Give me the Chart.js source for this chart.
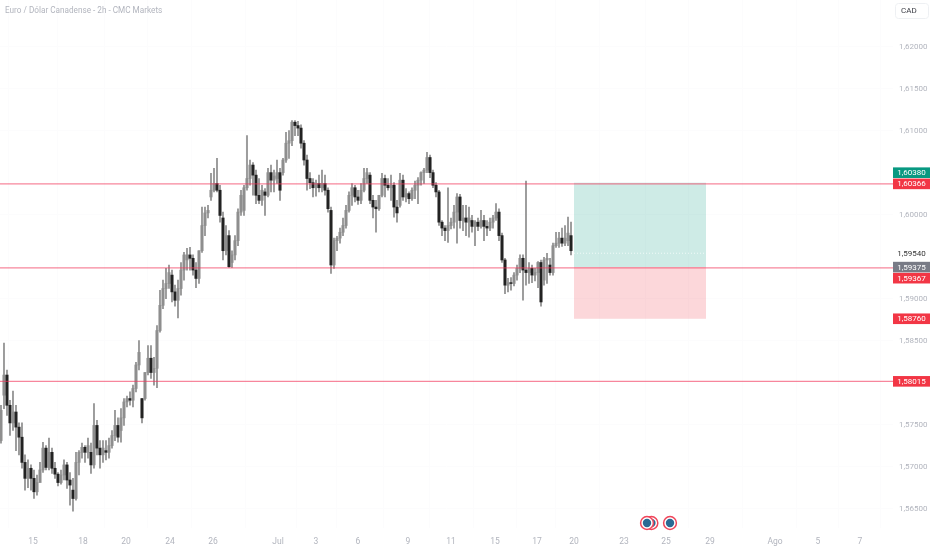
<!DOCTYPE html>
<html>
<head>
<meta charset="utf-8">
<title>Euro / Dólar Canadense</title>
<script src="https://cdn.jsdelivr.net/npm/chart.js@4"></script>
<style>
  html, body { margin: 0; padding: 0; background: #fff; }
  canvas { display: block; }
</style>
</head>
<body>
<canvas id="chart" width="932" height="550"></canvas>
<script>
const chartTitle = 'Euro / Dólar Canadense - 2h - CMC Markets';
const currency = 'CAD';

const opens = [
  1.5731,1.5785,1.5809,1.5773,1.5752,1.5765,1.5747,1.5735,1.5705,1.5686,
  1.5698,1.5686,1.5670,1.5681,1.5696,1.5722,1.5699,1.5717,1.5698,1.5691,
  1.5681,1.5690,1.5702,1.5684,1.5672,1.5662,1.5705,1.5717,1.5723,1.5717,
  1.5717,1.5702,1.5749,1.5722,1.5714,1.5719,1.5717,1.5725,1.5737,1.5749,
  1.5743,1.5758,1.5777,1.5781,1.5779,1.5793,1.5821,1.5781,1.5781,1.5812,
  1.5829,1.5812,1.5817,1.5862,1.5892,1.5912,1.5918,1.5928,1.5908,1.5898,
  1.5912,1.5934,1.5946,1.5952,1.5948,1.5934,1.5924,1.5957,1.5987,1.6002,
  1.6021,1.6029,1.6037,1.6029,1.5996,1.5957,1.5975,1.5943,1.5952,1.5969,
  1.6003,1.6005,1.6032,1.6043,1.6059,1.6047,1.6023,1.6017,1.6027,1.6023,
  1.6050,1.6041,1.6043,1.6050,1.6050,1.6065,1.6085,1.6088,1.6110,1.6106,
  1.6103,1.6085,1.6065,1.6043,1.6038,1.6032,1.6037,1.6032,1.6037,1.6029,
  1.6005,1.5940,1.5969,1.5972,1.5979,1.5987,1.6005,1.6023,1.6032,1.6021,
  1.6017,1.6029,1.6043,1.6047,1.6017,1.6009,1.6007,1.6023,1.6043,1.6035,
  1.6032,1.6035,1.6009,1.6011,1.6041,1.6021,1.6025,1.6019,1.6029,1.6035,
  1.6041,1.6050,1.6053,1.6068,1.6050,1.6035,1.6027,1.5991,1.5984,1.5981,
  1.5987,1.5991,1.6003,1.6021,1.5993,1.5996,1.5991,1.5993,1.5986,1.5991,
  1.5986,1.5993,1.5986,1.5984,1.5991,1.5996,1.6003,1.5975,1.5946,1.5916,
  1.5919,1.5918,1.5928,1.5936,1.5948,1.5934,1.5931,1.5936,1.5928,1.5931,
  1.5943,1.5922,1.5946,1.5940,1.5931,1.5963,1.5966,1.5972,1.5966,1.5969,
  1.5975
];
const closes = [
  1.5767,1.5809,1.5773,1.5752,1.5765,1.5747,1.5735,1.5705,1.5686,1.5698,
  1.5686,1.5670,1.5681,1.5696,1.5722,1.5699,1.5717,1.5698,1.5691,1.5681,
  1.5690,1.5702,1.5684,1.5678,1.5662,1.5705,1.5717,1.5723,1.5717,1.5725,
  1.5702,1.5749,1.5722,1.5714,1.5722,1.5717,1.5725,1.5737,1.5749,1.5735,
  1.5758,1.5777,1.5781,1.5779,1.5793,1.5821,1.5836,1.5758,1.5812,1.5829,
  1.5812,1.5817,1.5862,1.5892,1.5912,1.5918,1.5931,1.5908,1.5898,1.5912,
  1.5934,1.5952,1.5952,1.5948,1.5934,1.5924,1.5957,1.5987,1.6002,1.6005,
  1.6029,1.6037,1.6029,1.5999,1.5957,1.5975,1.5938,1.5952,1.5969,1.6003,
  1.6023,1.6032,1.6043,1.6059,1.6047,1.6023,1.6017,1.6029,1.6023,1.6050,
  1.6041,1.6046,1.6050,1.6029,1.6065,1.6085,1.6088,1.6110,1.6106,1.6103,
  1.6085,1.6065,1.6043,1.6038,1.6032,1.6037,1.6032,1.6037,1.6029,1.6007,
  1.5940,1.5969,1.5972,1.5979,1.5987,1.6005,1.6023,1.6032,1.6021,1.6017,
  1.6029,1.6043,1.6050,1.6017,1.6009,1.6007,1.6023,1.6043,1.6035,1.6032,
  1.6035,1.6009,1.6002,1.6041,1.6021,1.6025,1.6019,1.6029,1.6035,1.6041,
  1.6050,1.6053,1.6068,1.6050,1.6035,1.6027,1.5991,1.5984,1.5981,1.5987,
  1.5991,1.6003,1.6021,1.5993,1.5996,1.5991,1.5996,1.5986,1.5991,1.5986,
  1.5993,1.5986,1.5984,1.5991,1.5996,1.6003,1.5975,1.5946,1.5916,1.5919,
  1.5918,1.5928,1.5936,1.5948,1.5934,1.5931,1.5936,1.5928,1.5931,1.5943,
  1.5896,1.5946,1.5948,1.5931,1.5963,1.5966,1.5972,1.5966,1.5972,1.5978,
  1.5957
];
const highs = [
  1.5773,1.5847,1.5815,1.5779,1.5790,1.5773,1.5752,1.5752,1.5714,1.5708,
  1.5702,1.5696,1.5690,1.5705,1.5729,1.5725,1.5734,1.5722,1.5705,1.5693,
  1.5696,1.5708,1.5705,1.5693,1.5686,1.5717,1.5719,1.5728,1.5725,1.5734,
  1.5728,1.5775,1.5755,1.5731,1.5731,1.5731,1.5734,1.5743,1.5767,1.5758,
  1.5769,1.5781,1.5784,1.5789,1.5797,1.5824,1.5850,1.5781,1.5812,1.5844,
  1.5844,1.5830,1.5868,1.5910,1.5922,1.5936,1.5940,1.5934,1.5916,1.5922,
  1.5943,1.5955,1.5960,1.5961,1.5952,1.5943,1.5957,1.6009,1.6009,1.6011,
  1.6049,1.6055,1.6067,1.6035,1.6003,1.5987,1.5981,1.5957,1.5975,1.6007,
  1.6029,1.6035,1.6094,1.6065,1.6062,1.6053,1.6043,1.6035,1.6031,1.6055,
  1.6059,1.6053,1.6065,1.6055,1.6067,1.6098,1.6100,1.6112,1.6112,1.6111,
  1.6107,1.6088,1.6071,1.6050,1.6043,1.6041,1.6047,1.6053,1.6047,1.6032,
  1.6009,1.5972,1.5974,1.5984,1.5996,1.6011,1.6027,1.6037,1.6035,1.6029,
  1.6037,1.6055,1.6055,1.6050,1.6023,1.6017,1.6023,1.6049,1.6047,1.6043,
  1.6047,1.6038,1.6017,1.6049,1.6047,1.6031,1.6027,1.6032,1.6040,1.6044,
  1.6051,1.6055,1.6074,1.6071,1.6053,1.6038,1.6029,1.5993,1.5987,1.6032,
  1.5996,1.6011,1.6025,1.6024,1.6011,1.6011,1.6009,1.5999,1.5993,1.5996,
  1.6005,1.5999,1.5993,1.5996,1.5999,1.6013,1.6007,1.5978,1.5948,1.5924,
  1.5925,1.5931,1.5940,1.5952,1.5952,1.6040,1.5943,1.5940,1.5936,1.5944,
  1.5946,1.5949,1.5954,1.5948,1.5966,1.5979,1.5979,1.5984,1.5987,1.5997,
  1.5991
];
const lows = [
  1.5728,1.5769,1.5761,1.5737,1.5743,1.5719,1.5714,1.5698,1.5672,1.5675,
  1.5672,1.5662,1.5666,1.5684,1.5693,1.5696,1.5696,1.5692,1.5686,1.5677,
  1.5679,1.5684,1.5674,1.5654,1.5647,1.5660,1.5690,1.5710,1.5705,1.5710,
  1.5692,1.5698,1.5714,1.5698,1.5705,1.5708,1.5710,1.5722,1.5731,1.5729,
  1.5729,1.5749,1.5771,1.5773,1.5771,1.5789,1.5815,1.5752,1.5779,1.5809,
  1.5805,1.5797,1.5794,1.5860,1.5888,1.5900,1.5912,1.5896,1.5891,1.5877,
  1.5904,1.5922,1.5934,1.5934,1.5928,1.5913,1.5918,1.5955,1.5975,1.5996,
  1.6017,1.6027,1.6027,1.5991,1.5946,1.5952,1.5937,1.5937,1.5946,1.5963,
  1.5999,1.5999,1.6029,1.6035,1.6023,1.6013,1.6013,1.6011,1.5999,1.6021,
  1.6027,1.6027,1.6037,1.6017,1.6047,1.6062,1.6067,1.6082,1.6094,1.6094,
  1.6079,1.6059,1.6029,1.6031,1.6021,1.6022,1.6027,1.6027,1.6023,1.6003,
  1.5930,1.5936,1.5957,1.5966,1.5975,1.5984,1.6003,1.6011,1.6015,1.6012,
  1.6013,1.6027,1.6037,1.6013,1.5996,1.5979,1.6005,1.6021,1.6021,1.6029,
  1.6017,1.5997,1.5991,1.6009,1.6017,1.6015,1.6013,1.6017,1.6019,1.6013,
  1.6035,1.6037,1.6050,1.6044,1.6032,1.6021,1.5987,1.5975,1.5969,1.5967,
  1.5983,1.5984,1.5966,1.5984,1.5981,1.5975,1.5973,1.5979,1.5963,1.5981,
  1.5984,1.5969,1.5975,1.5981,1.5984,1.5993,1.5969,1.5943,1.5906,1.5908,
  1.5910,1.5915,1.5922,1.5931,1.5898,1.5916,1.5918,1.5919,1.5921,1.5913,
  1.5891,1.5916,1.5918,1.5928,1.5928,1.5961,1.5961,1.5962,1.5963,1.5963,
  1.5952
];

// x axis runs in candle slots, one slot is 3px here
const xMin = -0.33;
const xMax = 297.33;
const yMax = 1.62555;
const yMin = 1.56269;

const dateLabels = ['15','18','20','24','26','Jul','3','6','9','11','15','17','20','23','25','29','Ago','5','7'];
const dateSlots = [10.67,27.33,41.67,56.33,70.67,92.33,105,119,135.67,150,164.67,178.67,191,207.67,221.67,236.33,258,272.33,286.33];
const priceTicks = [1.62,1.615,1.61,1.6,1.59,1.585,1.575,1.57,1.565];

const levels = [1.60366,1.59367,1.58015];
const targetPrice = 1.60380;
const entryPrice = 1.59375;
const stopPrice = 1.58760;
const lastPrice = 1.59540;
const boxStart = 191;
const boxEnd = 235;
const eventSlots = [223,216.8,215.33];

const GREY_TEXT = '#b2b5be';
const fontName = 'Roboto, sans-serif';

function fmt(v) {
  return v.toFixed(5).replace('.', ',');
}

const overlay = {
  id: 'overlay',
  beforeDatasetsDraw(chart) {
    const { ctx, scales: { x, y } } = chart;
    ctx.save();
    // position box
    const left = x.getPixelForValue(boxStart);
    const right = x.getPixelForValue(boxEnd);
    ctx.fillStyle = 'rgba(8,153,129,0.2)';
    ctx.fillRect(left, y.getPixelForValue(targetPrice), right - left, y.getPixelForValue(entryPrice) - y.getPixelForValue(targetPrice));
    ctx.fillStyle = 'rgba(242,54,69,0.2)';
    ctx.fillRect(left, y.getPixelForValue(entryPrice), right - left, y.getPixelForValue(stopPrice) - y.getPixelForValue(entryPrice));
    ctx.strokeStyle = 'rgba(255,255,255,0.7)';
    ctx.setLineDash([1, 2]);
    ctx.beginPath();
    ctx.moveTo(left, y.getPixelForValue(lastPrice));
    ctx.lineTo(right, y.getPixelForValue(lastPrice));
    ctx.stroke();
    ctx.restore();
  },
  afterDatasetsDraw(chart) {
    const { ctx, scales: { x, y }, chartArea } = chart;
    ctx.save();

    // horizontal levels
    ctx.strokeStyle = 'rgba(242,54,90,0.6)';
    ctx.lineWidth = 1.3;
    levels.forEach((p) => {
      const py = y.getPixelForValue(p);
      ctx.beginPath();
      ctx.moveTo(chartArea.left, py);
      ctx.lineTo(chartArea.right, py);
      ctx.stroke();
    });

    // price tags on the right
    ctx.font = '8px ' + fontName;
    ctx.textAlign = 'center';
    ctx.textBaseline = 'middle';
    const tag = (p, color, shift, txtColor) => {
      const py = y.getPixelForValue(p) + shift;
      if (color) {
        ctx.fillStyle = color;
        ctx.fillRect(chartArea.right, py - 5.3, 37, 10.6);
      }
      ctx.fillStyle = txtColor || '#fff';
      ctx.fillText(fmt(p), chartArea.right + 18.5, py + 0.5);
    };
    tag(targetPrice, '#089981', -10, null);
    tag(levels[0], '#f23645', 0, null);
    tag(lastPrice, null, 0, '#333');
    tag(entryPrice, '#787b86', 0, null);
    tag(levels[1], '#f23645', 10.4, null);
    tag(stopPrice, '#f23645', 0, null);
    tag(levels[2], '#f23645', 0, null);

    // title and currency box
    ctx.textAlign = 'left';
    ctx.font = '8.2px ' + fontName;
    ctx.fillStyle = GREY_TEXT;
    ctx.fillText(chartTitle, 5, 10.5);
    ctx.strokeStyle = '#eef0f3';
    ctx.lineWidth = 1;
    ctx.beginPath();
    ctx.roundRect(895.5, 3.5, 33, 15, 3);
    ctx.stroke();
    ctx.fillStyle = '#3b3d45';
    ctx.font = '8px ' + fontName;
    ctx.fillText(currency, 901, 11);

    // event badges above the axis, right one first so the left one stays on top
    const badgeY = chartArea.bottom - 5;
    eventSlots.forEach((s) => {
      const px = x.getPixelForValue(s);
      ctx.beginPath();
      ctx.arc(px, badgeY, 6.4, 0, Math.PI * 2);
      ctx.fillStyle = '#fff';
      ctx.fill();
      ctx.strokeStyle = '#f0455a';
      ctx.lineWidth = 1.5;
      ctx.stroke();
      ctx.beginPath();
      ctx.arc(px, badgeY, 4.2, 0, Math.PI * 2);
      ctx.fillStyle = '#2b6a94';
      ctx.fill();
    });
    ctx.restore();
  }
};

const wickData = highs.map((h, i) => ({ x: i, y: [lows[i], h] }));
const bodyData = opens.map((o, i) => ({ x: i, y: [o, closes[i]] }));
const bodyColors = opens.map((o, i) => (closes[i] < o ? '#222' : '#8e8e8e'));

new Chart(document.getElementById('chart'), {
  type: 'bar',
  data: {
    datasets: [
      {
        label: 'bodies',
        data: bodyData,
        backgroundColor: bodyColors,
        barThickness: 2.4,
        grouped: false,
        order: 1,
      },
      {
        label: 'wicks',
        data: wickData,
        backgroundColor: '#8a8a8a',
        barThickness: 1,
        grouped: false,
        order: 2,
      },
    ],
  },
  plugins: [overlay],
  options: {
    responsive: false,
    animation: false,
    layout: { padding: 0 },
    plugins: {
      legend: { display: false },
      tooltip: { enabled: false },
    },
    scales: {
      x: {
        type: 'linear',
        offset: false,
        min: xMin,
        max: xMax,
        border: { display: false },
        grid: { color: '#fcfcfd', drawTicks: false },
        afterBuildTicks(scale) {
          scale.ticks = dateSlots.map((v) => ({ value: v }));
        },
        afterFit(scale) {
          scale.height = 22;
          scale.paddingLeft = 0;
          scale.paddingRight = 0;
        },
        ticks: {
          autoSkip: false,
          maxRotation: 0,
          padding: 9,
          color: GREY_TEXT,
          font: { size: 8.5, family: fontName },
          callback(value, index) {
            return dateLabels[index];
          },
        },
      },
      y: {
        position: 'right',
        min: yMin,
        max: yMax,
        border: { display: false },
        grid: { color: '#fcfcfd', drawTicks: false },
        afterBuildTicks(scale) {
          scale.ticks = priceTicks.map((v) => ({ value: v }));
        },
        afterFit(scale) {
          scale.width = 39;
          scale.paddingTop = 0;
          scale.paddingBottom = 0;
        },
        ticks: {
          autoSkip: false,
          padding: 6,
          labelOffset: 0,
          color: GREY_TEXT,
          font: { size: 8, family: fontName },
          callback(value) {
            return fmt(value);
          },
        },
      },
    },
  },
});
</script>
</body>
</html>
